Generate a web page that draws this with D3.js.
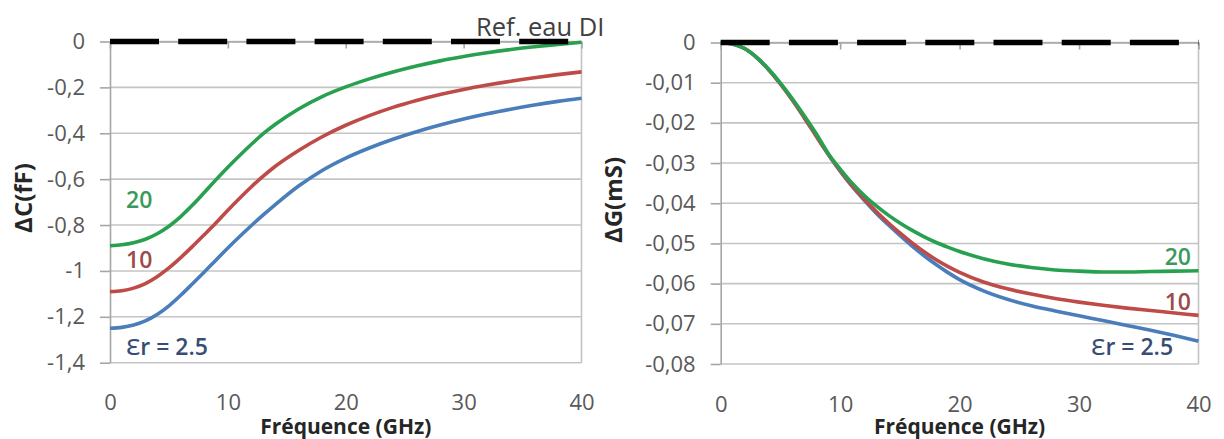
<!DOCTYPE html>
<html>
<head>
<meta charset="utf-8">
<script src="https://cdn.jsdelivr.net/npm/d3@7"></script>
<style>
  body { margin: 0; background: #fff; }
  svg text { font-family: "Open Sans", sans-serif; }
</style>
</head>
<body>
<svg id="chart"></svg>
<script>
const WIDTH = 1224;
const HEIGHT = 439;

// left panel : delta C (fF)
const freqC = [0, 1, 2, 3, 4, 5, 6, 7, 8, 9, 10, 11, 12, 13, 14, 16, 18, 20, 22, 24, 26, 28, 30, 32, 34, 36, 38, 40];
const dC_er25 = [-1.25, -1.246, -1.236, -1.218, -1.19, -1.152, -1.106, -1.056, -1.005, -0.952, -0.9, -0.85, -0.802, -0.756, -0.712, -0.63, -0.562, -0.508, -0.464, -0.426, -0.393, -0.364, -0.338, -0.315, -0.295, -0.277, -0.261, -0.247];
const dC_er10 = [-1.09, -1.086, -1.075, -1.055, -1.025, -0.987, -0.942, -0.893, -0.842, -0.79, -0.735, -0.683, -0.633, -0.587, -0.545, -0.475, -0.415, -0.365, -0.323, -0.287, -0.257, -0.231, -0.209, -0.19, -0.173, -0.158, -0.1445, -0.1325];
const dC_er20 = [-0.89, -0.886, -0.877, -0.862, -0.838, -0.805, -0.763, -0.713, -0.658, -0.602, -0.548, -0.497, -0.448, -0.402, -0.362, -0.294, -0.24, -0.198, -0.163, -0.133, -0.107, -0.0844, -0.0654, -0.049, -0.035, -0.023, -0.0128, -0.003];
const ticksC = [0, -0.2, -0.4, -0.6, -0.8, -1, -1.2, -1.4];

// right panel : delta G (mS)
const freqG = [0, 1, 2, 3, 4, 5, 6, 7, 8, 9, 10, 11, 12, 13, 14, 15, 16, 17, 18, 19, 20, 22, 24, 26, 28, 30, 32, 34, 36, 38, 40];
const dG_er25 = [0, -0.0004, -0.0015, -0.0037, -0.0067, -0.0103, -0.0143, -0.0187, -0.0233, -0.0278, -0.032, -0.0358, -0.0392, -0.0424, -0.0453, -0.048, -0.0506, -0.053, -0.0552, -0.0572, -0.059, -0.0618, -0.0639, -0.0655, -0.0668, -0.068, -0.0692, -0.0704, -0.0716, -0.0729, -0.0743];
const dG_er10 = [0, -0.0004, -0.0015, -0.0037, -0.0067, -0.0103, -0.0143, -0.0187, -0.0233, -0.0278, -0.0319, -0.0356, -0.0389, -0.042, -0.0448, -0.0474, -0.0498, -0.052, -0.054, -0.0557, -0.0572, -0.0596, -0.0613, -0.0626, -0.0637, -0.0646, -0.0654, -0.0661, -0.0667, -0.0673, -0.0679];
const dG_er20 = [0, -0.0004, -0.0015, -0.0037, -0.0066, -0.0101, -0.014, -0.0182, -0.0227, -0.0276, -0.0315, -0.035, -0.038, -0.0406, -0.0429, -0.0449, -0.0467, -0.0483, -0.0497, -0.0509, -0.052, -0.0538, -0.0551, -0.056, -0.0566, -0.0569, -0.0571, -0.0571, -0.057, -0.0569, -0.0568];
const ticksG = [0, -0.01, -0.02, -0.03, -0.04, -0.05, -0.06, -0.07, -0.08];

const freqTicks = [0, 10, 20, 30, 40];
const refFreq = [0, 40];
const refValue = [0, 0];
const refName = "Ref. eau DI";
const xTitle = "Fréquence (GHz)";

const COLORS = { er25: "#4a7ebb", er10: "#be4b48", er20: "#27a150" };
const LABEL_COLORS = { er25: "#374d73", er10: "#9c4a4a", er20: "#3a9a5a" };

const fr = d3.formatLocale({ decimal: ",", thousands: " ", grouping: [3], currency: ["", " €"], minus: "-" });
const fmt = fr.format("~g");

const svg = d3.select("#chart")
  .attr("width", WIDTH)
  .attr("height", HEIGHT);

svg.append("rect").attr("width", WIDTH).attr("height", HEIGHT).attr("fill", "#fff");

function drawPanel(p) {
  const x = d3.scaleLinear().domain([0, 40]).range([p.left, p.right]);
  const y = d3.scaleLinear().domain([p.yMin, 0]).range([p.bottom, p.top]);
  const g = svg.append("g");

  // gridlines
  g.append("g")
    .selectAll("line")
    .data(p.ticks)
    .enter().append("line")
    .attr("x1", p.left).attr("x2", p.right)
    .attr("y1", d => y(d)).attr("y2", d => y(d))
    .attr("stroke", "#c4c4c4")
    .attr("stroke-width", 1.6);

  // right border
  g.append("line")
    .attr("x1", p.right).attr("x2", p.right)
    .attr("y1", p.top).attr("y2", p.bottom)
    .attr("stroke", "#c4c4c4")
    .attr("stroke-width", 1.6);

  // y axis
  const yAxis = g.append("g")
    .attr("transform", `translate(${p.left},0)`)
    .call(d3.axisLeft(y).tickValues(p.ticks).tickFormat(fmt).tickSize(10).tickSizeOuter(0).tickPadding(15));
  yAxis.selectAll("path, line").attr("stroke", "#a6a6a6").attr("stroke-width", 1.6);
  yAxis.selectAll("text")
    .attr("fill", "#595959")
    .style("font-size", "22px");

  // x axis line at 0 with tick marks going down
  const xTop = g.append("g")
    .attr("transform", `translate(0,${y(0)})`)
    .call(d3.axisBottom(x).tickValues(freqTicks).tickFormat("").tickSize(7).tickSizeOuter(0));
  xTop.selectAll("path, line").attr("stroke", "#a6a6a6").attr("stroke-width", 1.6);

  // x tick labels at the bottom
  const xBottom = g.append("g")
    .attr("transform", `translate(0,${p.bottom})`)
    .call(d3.axisBottom(x).tickValues(freqTicks).tickSize(0).tickPadding(32));
  xBottom.select(".domain").remove();
  xBottom.selectAll("text")
    .attr("fill", "#595959")
    .style("font-size", "22px");

  // series
  const line = d3.line()
    .x(d => x(d[0]))
    .y(d => y(d[1]))
    .curve(d3.curveMonotoneX);

  p.series.forEach(s => {
    g.append("path")
      .datum(p.freq.map((f, i) => [f, s.values[i]]))
      .attr("d", line)
      .attr("fill", "none")
      .attr("stroke", s.color)
      .attr("stroke-width", 3.6)
      .attr("stroke-linejoin", "round");
  });

  // reference (dashed black)
  g.append("path")
    .datum(refFreq.map((f, i) => [f, refValue[i]]))
    .attr("d", d3.line().x(d => x(d[0])).y(d => y(d[1])))
    .attr("fill", "none")
    .attr("stroke", "#000")
    .attr("stroke-width", 5.5)
    .attr("stroke-dasharray", "49,19.2");

  // series labels
  p.labels.forEach(l => {
    const t = g.append("text")
      .attr("x", x(l.f))
      .attr("y", y(l.v))
      .attr("text-anchor", l.anchor)
      .attr("fill", l.color)
      .style("font-size", "23px")
      .style("font-weight", 600);
    if (l.eps) {
      t.append("tspan").style("font-size", "30px").style("font-weight", 400).text("ε");
      t.append("tspan").text("r = " + l.text);
    } else {
      t.text(l.text);
    }
  });

  // axis titles
  g.append("text")
    .attr("transform", `translate(${p.yTitleX},${p.yTitleY}) rotate(-90)`)
    .attr("text-anchor", "middle")
    .attr("fill", "#262626")
    .style("font-size", "24px")
    .style("font-weight", 700)
    .text(p.yTitle);

  g.append("text")
    .attr("x", (p.left + p.right) / 2)
    .attr("y", 434)
    .attr("text-anchor", "middle")
    .attr("fill", "#262626")
    .style("font-size", "21px")
    .style("font-weight", 700)
    .text(xTitle);

  return { x, y };
}

const left = drawPanel({
  left: 110, right: 581.5, top: 41.5, bottom: 362.7,
  yMin: -1.4, ticks: ticksC, freq: freqC,
  series: [
    { values: dC_er25, color: COLORS.er25 },
    { values: dC_er10, color: COLORS.er10 },
    { values: dC_er20, color: COLORS.er20 }
  ],
  labels: [
    { text: "20", f: 1.36, v: -0.726, anchor: "start", color: LABEL_COLORS.er20 },
    { text: "10", f: 1.36, v: -0.987, anchor: "start", color: LABEL_COLORS.er10 },
    { text: "2.5", f: 1.36, v: -1.366, anchor: "start", color: LABEL_COLORS.er25, eps: true }
  ],
  yTitle: "ΔC(fF)", yTitleX: 32, yTitleY: 198
});

drawPanel({
  left: 720.7, right: 1198.5, top: 42.5, bottom: 364,
  yMin: -0.08, ticks: ticksG, freq: freqG,
  series: [
    { values: dG_er25, color: COLORS.er25 },
    { values: dG_er10, color: COLORS.er10 },
    { values: dG_er20, color: COLORS.er20 }
  ],
  labels: [
    { text: "20", f: 39.37, v: -0.05537, anchor: "end", color: LABEL_COLORS.er20 },
    { text: "10", f: 39.37, v: -0.06656, anchor: "end", color: LABEL_COLORS.er10 },
    { text: "2.5", f: 37.87, v: -0.07776, anchor: "end", color: LABEL_COLORS.er25, eps: true }
  ],
  yTitle: "ΔG(mS)", yTitleX: 622, yTitleY: 200
});

// reference label, above the left panel's zero line
svg.append("text")
  .attr("x", left.x(31.05))
  .attr("y", left.y(0.024))
  .attr("fill", "#404040")
  .style("font-size", "25.5px")
  .text(refName);
</script>
</body>
</html>
